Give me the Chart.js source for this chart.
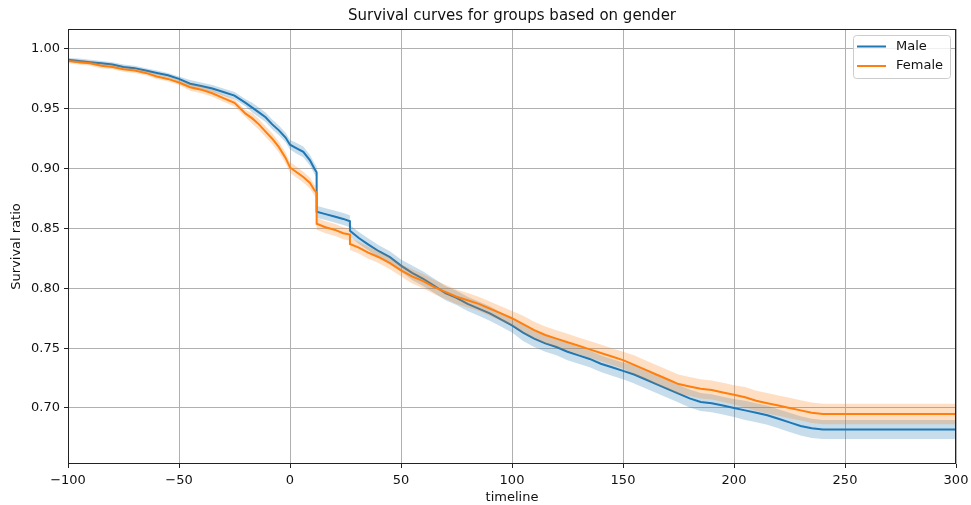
<!DOCTYPE html>
<html>
<head>
    <title>Survival curves for groups based on gender</title>
    <script src="https://cdn.jsdelivr.net/npm/chart.js"></script>
    <style>
        body { margin: 0; background: #fff; }
    </style>
</head>
<body>
    <canvas id="curvasSupervivencia" width="971" height="505"></canvas>

    <script>
        // Datos (Kaplan-Meier por genero); los tiempos repetidos marcan las caidas verticales
        const chartTitle = 'Survival curves for groups based on gender';
        const groups = ['Male', 'Female'];
        const timeline = [-100, -95, -90, -85, -80, -75, -70, -65, -60, -55, -50, -45, -40, -35, -30, -25, -20, -17, -14, -11, -8, -5, -2, 0, 3, 6, 9, 11, 12, 12, 16, 20, 24, 27, 27, 31, 35, 40, 45, 50, 55, 60, 65, 70, 75, 80, 85, 90, 95, 100, 105, 110, 115, 120, 125, 130, 135, 140, 145, 150, 155, 160, 165, 170, 175, 180, 185, 190, 195, 200, 205, 210, 215, 220, 225, 230, 235, 240, 300];

        const maleSurvival = [0.991, 0.990, 0.989, 0.988, 0.987, 0.985, 0.984, 0.982, 0.980, 0.978, 0.975, 0.971, 0.969, 0.967, 0.964, 0.961, 0.955, 0.951, 0.947, 0.943, 0.937, 0.932, 0.926, 0.920, 0.917, 0.914, 0.907, 0.900, 0.897, 0.864, 0.862, 0.860, 0.858, 0.856, 0.848, 0.842, 0.837, 0.831, 0.826, 0.819, 0.813, 0.808, 0.802, 0.796, 0.792, 0.787, 0.783, 0.779, 0.774, 0.769, 0.763, 0.758, 0.754, 0.751, 0.747, 0.744, 0.741, 0.737, 0.734, 0.731, 0.728, 0.724, 0.720, 0.716, 0.712, 0.708, 0.705, 0.704, 0.702, 0.700, 0.698, 0.696, 0.694, 0.691, 0.688, 0.685, 0.683, 0.682, 0.682];
        const maleLower = [0.9895, 0.988, 0.987, 0.986, 0.985, 0.983, 0.982, 0.980, 0.978, 0.976, 0.973, 0.968, 0.966, 0.964, 0.961, 0.958, 0.952, 0.947, 0.943, 0.939, 0.933, 0.928, 0.922, 0.916, 0.9125, 0.9095, 0.9025, 0.8955, 0.8925, 0.859, 0.857, 0.855, 0.853, 0.851, 0.843, 0.837, 0.832, 0.826, 0.821, 0.814, 0.807, 0.802, 0.796, 0.790, 0.786, 0.781, 0.777, 0.773, 0.768, 0.763, 0.756, 0.751, 0.747, 0.744, 0.740, 0.737, 0.734, 0.730, 0.727, 0.724, 0.7205, 0.7165, 0.7125, 0.7085, 0.7045, 0.7005, 0.6975, 0.6965, 0.6945, 0.6925, 0.690, 0.688, 0.686, 0.683, 0.680, 0.677, 0.675, 0.674, 0.674];
        const maleUpper = [0.9925, 0.992, 0.991, 0.990, 0.989, 0.987, 0.986, 0.984, 0.982, 0.980, 0.977, 0.974, 0.972, 0.970, 0.967, 0.964, 0.958, 0.955, 0.951, 0.947, 0.941, 0.936, 0.930, 0.924, 0.9215, 0.9185, 0.9115, 0.9045, 0.9015, 0.869, 0.867, 0.865, 0.863, 0.861, 0.853, 0.847, 0.842, 0.836, 0.831, 0.824, 0.819, 0.814, 0.808, 0.802, 0.798, 0.793, 0.789, 0.785, 0.780, 0.775, 0.770, 0.765, 0.761, 0.758, 0.754, 0.751, 0.748, 0.744, 0.741, 0.738, 0.7355, 0.7315, 0.7275, 0.7235, 0.7195, 0.7155, 0.7125, 0.7115, 0.7095, 0.7075, 0.706, 0.704, 0.702, 0.699, 0.696, 0.693, 0.691, 0.690, 0.690];

        const femaleSurvival = [0.990, 0.989, 0.988, 0.986, 0.985, 0.983, 0.982, 0.980, 0.977, 0.975, 0.972, 0.968, 0.966, 0.963, 0.959, 0.955, 0.946, 0.942, 0.937, 0.931, 0.925, 0.918, 0.909, 0.901, 0.897, 0.893, 0.888, 0.882, 0.880, 0.854, 0.851, 0.849, 0.846, 0.845, 0.837, 0.834, 0.830, 0.826, 0.821, 0.815, 0.810, 0.806, 0.801, 0.797, 0.793, 0.790, 0.787, 0.783, 0.779, 0.775, 0.770, 0.765, 0.761, 0.758, 0.755, 0.752, 0.749, 0.746, 0.743, 0.740, 0.736, 0.732, 0.728, 0.724, 0.720, 0.718, 0.716, 0.715, 0.713, 0.711, 0.709, 0.706, 0.704, 0.702, 0.700, 0.698, 0.696, 0.695, 0.695];
        const femaleLower = [0.988, 0.987, 0.986, 0.984, 0.983, 0.981, 0.980, 0.978, 0.975, 0.973, 0.970, 0.965, 0.963, 0.960, 0.956, 0.952, 0.943, 0.9375, 0.9325, 0.9265, 0.9205, 0.9135, 0.9045, 0.8965, 0.8925, 0.8885, 0.8835, 0.8775, 0.8755, 0.849, 0.846, 0.844, 0.841, 0.840, 0.832, 0.829, 0.825, 0.821, 0.816, 0.810, 0.804, 0.800, 0.795, 0.791, 0.787, 0.784, 0.781, 0.777, 0.773, 0.769, 0.763, 0.758, 0.754, 0.751, 0.748, 0.745, 0.742, 0.739, 0.736, 0.733, 0.728, 0.724, 0.720, 0.716, 0.712, 0.710, 0.708, 0.707, 0.705, 0.703, 0.7005, 0.6975, 0.6955, 0.6935, 0.6915, 0.6895, 0.6875, 0.6865, 0.6865];
        const femaleUpper = [0.992, 0.991, 0.990, 0.988, 0.987, 0.985, 0.984, 0.982, 0.979, 0.977, 0.974, 0.971, 0.969, 0.966, 0.962, 0.958, 0.949, 0.9465, 0.9415, 0.9355, 0.9295, 0.9225, 0.9135, 0.9055, 0.9015, 0.8975, 0.8925, 0.8865, 0.8845, 0.859, 0.856, 0.854, 0.851, 0.850, 0.842, 0.839, 0.835, 0.831, 0.826, 0.820, 0.816, 0.812, 0.807, 0.803, 0.799, 0.796, 0.793, 0.789, 0.785, 0.781, 0.777, 0.772, 0.768, 0.765, 0.762, 0.759, 0.756, 0.753, 0.750, 0.747, 0.744, 0.740, 0.736, 0.732, 0.728, 0.726, 0.724, 0.723, 0.721, 0.719, 0.7175, 0.7145, 0.7125, 0.7105, 0.7085, 0.7065, 0.7045, 0.7035, 0.7035];

        const xTicks = [-100, -50, 0, 50, 100, 150, 200, 250, 300];
        const yTicks = [0.70, 0.75, 0.80, 0.85, 0.90, 0.95, 1.00];

        const azul = '#1f77b4';
        const naranja = '#ff7f0e';
        const azulBanda = 'rgba(31, 119, 180, 0.25)';
        const naranjaBanda = 'rgba(255, 127, 14, 0.25)';
        const fuente = "'DejaVu Sans', sans-serif";

        function puntos(valores) {
            return timeline.map((t, i) => ({ x: t, y: valores[i] }));
        }

        function banda(valores, color, relleno, orden) {
            return {
                label: '',
                data: puntos(valores),
                borderWidth: 0,
                borderColor: 'rgba(0,0,0,0)',
                backgroundColor: color,
                pointRadius: 0,
                tension: 0,
                fill: relleno,
                order: orden
            };
        }

        function curva(nombre, valores, color, orden) {
            return {
                label: nombre,
                data: puntos(valores),
                borderWidth: 2,
                borderColor: color,
                backgroundColor: color,
                pointRadius: 0,
                tension: 0,
                fill: false,
                order: orden
            };
        }

        // Titulo centrado sobre el area, marco completo y leyenda dentro del area (estilo matplotlib)
        const marcoYLeyenda = {
            id: 'marcoYLeyenda',
            afterDraw(chart) {
                const ctx = chart.ctx;
                const area = chart.chartArea;
                ctx.save();
                ctx.fillStyle = '#111';
                ctx.font = '15px ' + fuente;
                ctx.textAlign = 'center';
                ctx.textBaseline = 'middle';
                ctx.fillText(chartTitle, (area.left + area.right) / 2, 16);

                ctx.strokeStyle = '#222';
                ctx.lineWidth = 1;
                ctx.strokeRect(area.left + 0.5, area.top + 0.5, area.right - area.left - 1, area.bottom - area.top - 1);

                const ancho = 97, alto = 43;
                const bx = area.right - 6 - ancho;
                const by = area.top + 6;
                ctx.fillStyle = 'rgba(255,255,255,0.8)';
                ctx.strokeStyle = '#cccccc';
                ctx.beginPath();
                ctx.roundRect(bx + 0.5, by + 0.5, ancho, alto, 3);
                ctx.fill();
                ctx.stroke();

                const colores = [azul, naranja];
                ctx.font = '13px ' + fuente;
                ctx.textAlign = 'left';
                groups.forEach((g, i) => {
                    const y = by + 11.5 + i * 19.5;
                    ctx.strokeStyle = colores[i];
                    ctx.lineWidth = 2;
                    ctx.beginPath();
                    ctx.moveTo(bx + 4, y);
                    ctx.lineTo(bx + 33, y);
                    ctx.stroke();
                    ctx.fillStyle = '#111';
                    ctx.fillText(g, bx + 43, y);
                });
                ctx.restore();
            }
        };

        new Chart(document.getElementById('curvasSupervivencia').getContext('2d'), {
            type: 'line',
            data: {
                datasets: [
                    banda(maleLower, azulBanda, false, 3),
                    banda(maleUpper, azulBanda, '-1', 3),
                    curva(groups[0], maleSurvival, azul, 2),
                    banda(femaleLower, naranjaBanda, false, 1),
                    banda(femaleUpper, naranjaBanda, '-1', 1),
                    curva(groups[1], femaleSurvival, naranja, 0)
                ]
            },
            options: {
                responsive: false,
                animation: false,
                layout: { padding: { left: 9, right: 15, top: 29, bottom: 0 } },
                plugins: {
                    legend: { display: false },
                    tooltip: { enabled: false },
                    title: { display: false }
                },
                scales: {
                    x: {
                        type: 'linear',
                        min: -100,
                        max: 300,
                        afterBuildTicks: scale => { scale.ticks = xTicks.map(v => ({ value: v })); },
                        afterFit: scale => {
                            scale.height = 41;
                            scale.paddingLeft = 0;
                            scale.paddingRight = 0;
                        },
                        grid: { color: '#b0b0b0', lineWidth: 1, tickColor: '#222', tickLength: 4 },
                        border: { display: false },
                        ticks: {
                            color: '#111',
                            padding: 5,
                            maxRotation: 0,
                            font: { family: fuente, size: 13 },
                            callback: v => String(v).replace('-', '\u2212')
                        },
                        title: {
                            display: true,
                            text: 'timeline',
                            color: '#111',
                            font: { family: fuente, size: 13 },
                            padding: { top: 0, bottom: 0 }
                        }
                    },
                    y: {
                        type: 'linear',
                        min: 0.6532,
                        max: 1.0167,
                        afterBuildTicks: scale => { scale.ticks = yTicks.map(v => ({ value: v })); },
                        afterFit: scale => {
                            scale.width = 59;
                            scale.paddingTop = 0;
                            scale.paddingBottom = 0;
                        },
                        grid: { color: '#b0b0b0', lineWidth: 1, tickColor: '#222', tickLength: 4 },
                        border: { display: false },
                        ticks: {
                            color: '#111',
                            padding: 4,
                            font: { family: fuente, size: 13 },
                            callback: v => Number(v).toFixed(2)
                        },
                        title: {
                            display: true,
                            text: 'Survival ratio',
                            color: '#111',
                            font: { family: fuente, size: 13 },
                            padding: { top: 0, bottom: 0 }
                        }
                    }
                }
            },
            plugins: [marcoYLeyenda]
        });
    </script>
</body>
</html>
